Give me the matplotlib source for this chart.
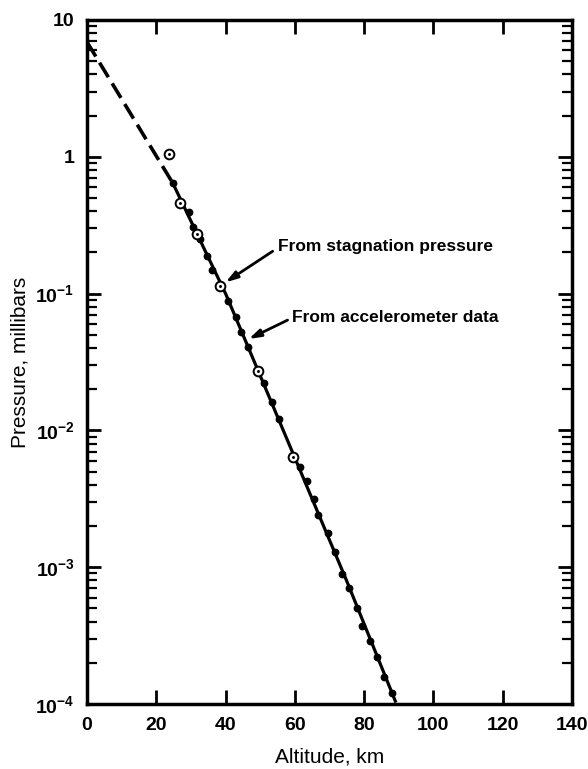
import numpy as np
import matplotlib
matplotlib.use("Agg")
import matplotlib.pyplot as plt
from matplotlib.ticker import FixedLocator, LogLocator, NullFormatter

plt.rcParams['font.family'] = ['Liberation Sans', 'DejaVu Sans']
plt.rcParams['mathtext.fontset'] = 'custom'
plt.rcParams['mathtext.rm'] = 'Liberation Sans:bold'
plt.rcParams['mathtext.it'] = 'Liberation Sans:italic:bold'
plt.rcParams['mathtext.bf'] = 'Liberation Sans:bold'

# Dashed extrapolation (altitude km, pressure mbar)
dash_alt = [0.0, 24.8]
dash_p = [6.9, 0.64]

# Solid fitted curve
fit_alt = [24.8, 40.0, 60.0, 75.0, 89.0]
fit_p = [0.64, 0.10, 0.0063, 0.00079, 0.000105]

# From stagnation pressure (open circles)
stag_alt = [23.6, 26.8, 31.7, 38.3, 49.5, 59.4]
stag_p = [1.05, 0.456, 0.271, 0.113, 0.0272, 0.00643]

# From accelerometer data (filled dots)
acc_alt = [24.8, 29.4, 30.5, 32.6, 34.6, 36.0, 40.6, 42.9, 44.4, 46.6, 51.0,
           53.3, 55.3, 61.4, 63.4, 65.4, 66.8, 69.7, 71.7, 73.5, 75.5, 77.8,
           79.5, 81.8, 83.8, 85.6, 88.1]
acc_logp = [-0.195, -0.407, -0.51, -0.60, -0.727, -0.83, -1.055, -1.17, -1.28,
            -1.39, -1.653, -1.79, -1.92, -2.27, -2.37, -2.50, -2.62, -2.75,
            -2.89, -3.05, -3.15, -3.30, -3.43, -3.54, -3.66, -3.80, -3.92]
acc_p = [10 ** v for v in acc_logp]

xticks = [0, 20, 40, 60, 80, 100, 120, 140]
yticks = [1e-4, 1e-3, 1e-2, 1e-1, 1, 10]
yticklabels = [r'$\mathregular{10^{-4}}$', r'$\mathregular{10^{-3}}$',
               r'$\mathregular{10^{-2}}$', r'$\mathregular{10^{-1}}$', '1', '10']

fig = plt.figure(figsize=(5.88, 7.69), dpi=100)
ax = fig.add_axes([87 / 588, 65 / 769, (572 - 87) / 588, (704 - 20) / 769])
ax.set_yscale('log')
ax.set_xlim(0, 140)
ax.set_ylim(1e-4, 10)

ax.plot(dash_alt, dash_p, color='black', lw=2.6, dashes=(4.7, 2.0), solid_capstyle='butt')
ax.plot(fit_alt, fit_p, color='black', lw=2.3)
ax.plot(acc_alt, acc_p, 'o', color='black', ms=4.6, zorder=3)
ax.plot(stag_alt, stag_p, 'o', mfc='white', mec='black', ms=7, mew=1.4, zorder=4)
ax.plot(stag_alt, stag_p, '.', color='black', ms=2.2, zorder=5)

ax.set_xticks(xticks)
ax.set_xticklabels([str(t) for t in xticks])
ax.yaxis.set_major_locator(FixedLocator(yticks))
ax.set_yticklabels(yticklabels)
ax.yaxis.set_minor_locator(LogLocator(base=10, subs=np.arange(2, 10), numticks=20))
ax.yaxis.set_minor_formatter(NullFormatter())

ax.tick_params(axis='both', which='major', direction='in', top=True, right=True,
               width=2, length=10, labelsize=14)
ax.tick_params(axis='y', which='minor', direction='in', left=True, right=True,
               width=1.6, length=7)
ax.tick_params(axis='x', which='major', pad=9)
ax.tick_params(axis='y', which='major', pad=9)
for lab in ax.get_xticklabels() + ax.get_yticklabels():
    lab.set_fontweight('bold')
for s in ax.spines.values():
    s.set_linewidth(2.5)

ax.set_xlabel('Altitude, km', fontsize=15, labelpad=10)
ax.set_ylabel('Pressure, millibars', fontsize=15, labelpad=4)

arrow_kw = dict(arrowstyle='-|>,head_length=0.7,head_width=0.22',
                color='black', lw=2, shrinkA=0, shrinkB=0)
ax.annotate('', xy=(40.0, 0.121), xytext=(53.6, 0.204), arrowprops=arrow_kw)
ax.annotate('', xy=(46.7, 0.0466), xytext=(57.9, 0.064), arrowprops=arrow_kw)
ax.text(55.0, 0.221, 'From stagnation pressure', fontsize=12.5, fontweight='bold',
        va='center', ha='left')
ax.text(59.3, 0.0673, 'From accelerometer data', fontsize=12.5, fontweight='bold',
        va='center', ha='left')

fig.savefig('out.png', dpi=100)
